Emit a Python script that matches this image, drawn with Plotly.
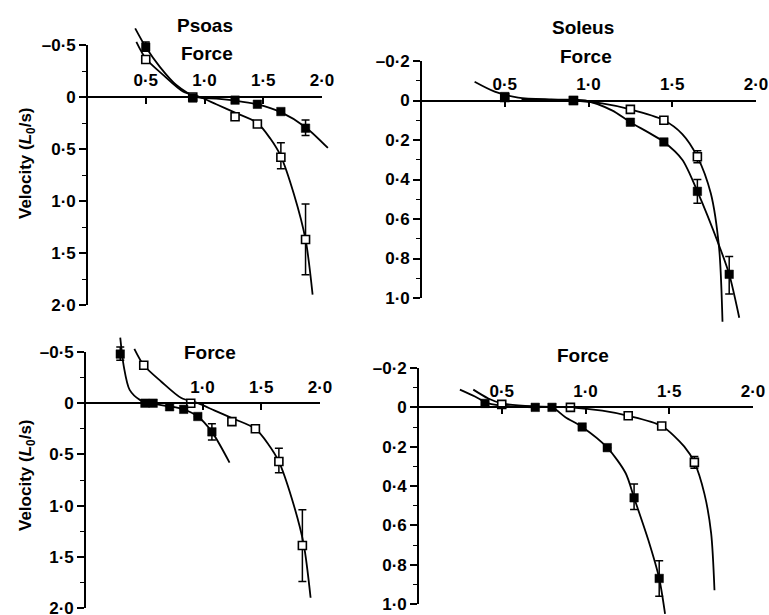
import plotly.graph_objects as go

W, H = 769, 615

# ---------------- data (Force, Velocity in L0/s) ----------------
# Panel 1: Psoas (top-left)
p1_fill_F = [0.50, 0.90, 1.26, 1.45, 1.65, 1.86]
p1_fill_V = [-0.48, 0.01, 0.03, 0.07, 0.14, 0.30]
p1_fill_ep = [0.04, 0, 0, 0, 0, 0.07]
p1_fill_em = [0.05, 0, 0, 0, 0, 0.08]
p1_open_F = [0.50, 0.90, 1.26, 1.45, 1.65, 1.86]
p1_open_V = [-0.36, 0.00, 0.19, 0.26, 0.58, 1.37]
p1_open_ep = [0, 0, 0, 0, 0.11, 0.34]
p1_open_em = [0, 0, 0, 0, 0.14, 0.34]
p1_fcurve_F = [0.41, 0.50, 0.62, 0.76, 0.93, 1.10, 1.26, 1.45, 1.65, 1.86, 2.05]
p1_fcurve_V = [-0.66, -0.48, -0.29, -0.115, 0.0, 0.015, 0.035, 0.07, 0.145, 0.29, 0.49]
p1_ocurve_F = [0.42, 0.50, 0.65, 0.82, 0.96, 1.10, 1.26, 1.45, 1.56, 1.65, 1.76, 1.86, 1.92]
p1_ocurve_V = [-0.53, -0.37, -0.21, -0.05, 0.0, 0.07, 0.15, 0.25, 0.40, 0.57, 0.93, 1.37, 1.90]

# Panel 2: Soleus (top-right)
p2_fill_F = [0.50, 0.91, 1.25, 1.45, 1.65, 1.84]
p2_fill_V = [-0.02, 0.0, 0.11, 0.21, 0.46, 0.88]
p2_fill_ep = [0, 0, 0, 0, 0.06, 0.10]
p2_fill_em = [0, 0, 0, 0, 0.06, 0.09]
p2_open_F = [0.50, 0.91, 1.25, 1.45, 1.65]
p2_open_V = [-0.015, 0.0, 0.045, 0.10, 0.285]
p2_open_ep = [0, 0, 0, 0, 0.03]
p2_open_em = [0, 0, 0, 0, 0.03]
p2_fcurve_F = [0.32, 0.44, 0.58, 0.78, 0.98, 1.14, 1.25, 1.45, 1.56, 1.65, 1.78, 1.84, 1.90]
p2_fcurve_V = [-0.095, -0.045, -0.015, -0.005, 0.0, 0.05, 0.11, 0.21, 0.30, 0.46, 0.735, 0.88, 1.10]
p2_ocurve_F = [0.60, 0.90, 1.08, 1.25, 1.45, 1.56, 1.65, 1.73, 1.78, 1.80]
p2_ocurve_V = [-0.005, 0.0, 0.015, 0.045, 0.10, 0.17, 0.285, 0.47, 0.75, 1.12]

# Panel 3: Psoas (bottom-left)
p3_fill_F = [0.30, 0.51, 0.58, 0.72, 0.84, 0.96, 1.08]
p3_fill_V = [-0.48, 0.0, 0.0, 0.035, 0.06, 0.13, 0.28]
p3_fill_ep = [0.06, 0, 0, 0, 0, 0, 0.08]
p3_fill_em = [0.07, 0, 0, 0, 0, 0, 0.08]
p3_open_F = [0.50, 0.90, 1.25, 1.45, 1.65, 1.85]
p3_open_V = [-0.37, 0.0, 0.18, 0.25, 0.57, 1.39]
p3_open_ep = [0, 0, 0, 0, 0.11, 0.35]
p3_open_em = [0, 0, 0, 0, 0.13, 0.35]
p3_fcurve_F = [0.30, 0.33, 0.38, 0.47, 0.55, 0.72, 0.84, 0.96, 1.08, 1.23]
p3_fcurve_V = [-0.64, -0.36, -0.13, -0.03, 0.0, 0.03, 0.06, 0.13, 0.28, 0.58]
p3_ocurve_F = p1_ocurve_F
p3_ocurve_V = p1_ocurve_V

# Panel 4: Soleus (bottom-right)
p4_fill_F = [0.40, 0.70, 0.80, 0.98, 1.13, 1.29, 1.44]
p4_fill_V = [-0.02, 0.0, 0.0, 0.10, 0.205, 0.46, 0.87]
p4_fill_ep = [0, 0, 0, 0, 0, 0.06, 0.09]
p4_fill_em = [0, 0, 0, 0, 0, 0.07, 0.09]
p4_open_F = [0.50, 0.91, 1.255, 1.455, 1.65]
p4_open_V = [-0.015, 0.0, 0.043, 0.095, 0.28]
p4_open_ep = [0, 0, 0, 0, 0.03]
p4_open_em = [0, 0, 0, 0, 0.03]
p4_fcurve_F = [0.25, 0.34, 0.42, 0.55, 0.70, 0.80, 0.88, 0.98, 1.13, 1.24, 1.29, 1.375, 1.44, 1.475]
p4_fcurve_V = [-0.09, -0.055, -0.02, -0.005, 0.0, 0.0, 0.05, 0.10, 0.205, 0.335, 0.46, 0.675, 0.87, 1.05]
p4_ocurve_F = [0.33, 0.42, 0.50, 0.70, 0.91, 1.10, 1.255, 1.455, 1.59, 1.65, 1.71, 1.75, 1.77]
p4_ocurve_V = [-0.09, -0.045, -0.02, -0.005, 0.0, 0.017, 0.043, 0.095, 0.20, 0.28, 0.44, 0.64, 0.93]

# tick labels
x_tickvals = [0.5, 1.0, 1.5, 2.0]
x_ticktext = ["0·5", "1·0", "1·5", "2·0"]
x_tickvals_p3 = [1.0, 1.5, 2.0]
x_ticktext_p3 = ["1·0", "1·5", "2·0"]
psoas_y_tickvals = [-0.5, 0, 0.5, 1.0, 1.5, 2.0]
psoas_y_ticktext = ["–0·5", "0", "0·5", "1·0", "1·5", "2·0"]
soleus_y_tickvals = [-0.2, 0, 0.2, 0.4, 0.6, 0.8, 1.0]
soleus_y_ticktext = ["–0·2", "0", "0·2", "0·4", "0·6", "0·8", "1·0"]

FONT = "Liberation Sans, Arial, sans-serif"
TICKFONT = dict(family=FONT, size=17, color="black", weight="bold")

# panel geometry in pixels: x0 (F=0), x2 (F=2), ytop (vtop), ybot (vbot)
panels = [
    dict(x0=87, x2=322, ytop=45, ybot=305, vtop=-0.5, vbot=2.0, minor=0.25,
         yv=psoas_y_tickvals, yt=psoas_y_ticktext, xv=x_tickvals, xt=x_ticktext,
         fill=(p1_fill_F, p1_fill_V, p1_fill_ep, p1_fill_em),
         opn=(p1_open_F, p1_open_V, p1_open_ep, p1_open_em),
         fc=(p1_fcurve_F, p1_fcurve_V), oc=(p1_ocurve_F, p1_ocurve_V)),
    dict(x0=421, x2=756, ytop=61, ybot=298, vtop=-0.2, vbot=1.0, minor=0.1,
         yv=soleus_y_tickvals, yt=soleus_y_ticktext, xv=x_tickvals, xt=x_ticktext,
         fill=(p2_fill_F, p2_fill_V, p2_fill_ep, p2_fill_em),
         opn=(p2_open_F, p2_open_V, p2_open_ep, p2_open_em),
         fc=(p2_fcurve_F, p2_fcurve_V), oc=(p2_ocurve_F, p2_ocurve_V)),
    dict(x0=85, x2=320, ytop=352, ybot=608, vtop=-0.5, vbot=2.0, minor=0.25,
         yv=psoas_y_tickvals, yt=psoas_y_ticktext, xv=x_tickvals_p3, xt=x_ticktext_p3,
         fill=(p3_fill_F, p3_fill_V, p3_fill_ep, p3_fill_em),
         opn=(p3_open_F, p3_open_V, p3_open_ep, p3_open_em),
         fc=(p3_fcurve_F, p3_fcurve_V), oc=(p3_ocurve_F, p3_ocurve_V)),
    dict(x0=418, x2=753, ytop=368, ybot=604, vtop=-0.2, vbot=1.0, minor=0.1,
         yv=soleus_y_tickvals, yt=soleus_y_ticktext, xv=x_tickvals, xt=x_ticktext,
         fill=(p4_fill_F, p4_fill_V, p4_fill_ep, p4_fill_em),
         opn=(p4_open_F, p4_open_V, p4_open_ep, p4_open_em),
         fc=(p4_fcurve_F, p4_fcurve_V), oc=(p4_ocurve_F, p4_ocurve_V)),
]


def xp(px):
    return px / W


def yp(py):
    return 1 - py / H


def axname(kind, n):
    return f"{kind}axis" if n == 1 else f"{kind}axis{n}"


def axref(kind, n):
    return kind if n == 1 else f"{kind}{n}"


fig = go.Figure()
layout = {}

for i, p in enumerate(panels):
    nd = 2 * i + 1  # data axes
    ns = 2 * i + 2  # display axes
    sx = (p["x2"] - p["x0"]) / 2.0
    sy = (p["ybot"] - p["ytop"]) / (p["vbot"] - p["vtop"])
    y_zero = p["ytop"] + (0 - p["vtop"]) * sy

    # data subplot: wider area so curves may run past the axis lines
    mL = min(45, p["x0"] - 1)
    mR = min(35, W - p["x2"])
    mT = min(40, p["ytop"])
    mB = min(30, H - p["ybot"])
    layout[axname("x", nd)] = dict(
        domain=[xp(p["x0"] - mL), xp(p["x2"] + mR)],
        range=[-mL / sx, 2.0 + mR / sx], visible=False, anchor=axref("y", nd),
        automargin=False, fixedrange=True)
    layout[axname("y", nd)] = dict(
        domain=[yp(p["ybot"] + mB), yp(p["ytop"] - mT)],
        range=[p["vbot"] + mB / sy, p["vtop"] - mT / sy], visible=False,
        anchor=axref("x", nd), automargin=False, fixedrange=True)

    # display axes
    layout[axname("x", ns)] = dict(
        domain=[xp(p["x0"]), xp(p["x2"])], range=[0, 2.0],
        anchor="free", position=yp(y_zero), side="top",
        showline=True, linecolor="black", linewidth=1.6,
        ticks="inside", ticklen=6, tickwidth=1.6, tickcolor="black",
        tickmode="array", tickvals=p["xv"], ticktext=p["xt"],
        tickfont=TICKFONT, ticklabelstandoff=3, ticklabeloverflow="allow",
        automargin=False, showgrid=False, zeroline=False, fixedrange=True)
    layout[axname("y", ns)] = dict(
        domain=[yp(p["ybot"]), yp(p["ytop"])], range=[p["vbot"], p["vtop"]],
        anchor="free", position=xp(p["x0"]), side="left",
        showline=True, linecolor="black", linewidth=1.6,
        ticks="outside", ticklen=7, tickwidth=1.6, tickcolor="black",
        tickmode="array", tickvals=p["yv"], ticktext=p["yt"],
        minor=dict(tickmode="linear", tick0=0, dtick=p["minor"],
                   ticks="outside", ticklen=4, tickwidth=1.4, tickcolor="black"),
        tickfont=TICKFONT, ticklabeloverflow="allow", automargin=False,
        showgrid=False, zeroline=False, fixedrange=True)

    fig.add_trace(go.Scatter(x=[None], y=[None], xaxis=axref("x", ns),
                             yaxis=axref("y", ns), showlegend=False,
                             hoverinfo="skip"))

    xr, yr = axref("x", nd), axref("y", nd)
    # fitted curves
    for cF, cV in (p["oc"], p["fc"]):
        fig.add_trace(go.Scatter(
            x=cF, y=cV, mode="lines", xaxis=xr, yaxis=yr,
            line=dict(color="black", width=1.8, shape="spline", smoothing=0.8),
            showlegend=False, hoverinfo="skip"))
    # open squares
    oF, oV, oep, oem = p["opn"]
    fig.add_trace(go.Scatter(
        x=oF, y=oV, mode="markers", xaxis=xr, yaxis=yr,
        marker=dict(symbol="square", size=8, color="white",
                    line=dict(color="black", width=1.6)),
        error_y=dict(type="data", symmetric=False, array=oep, arrayminus=oem,
                     color="black", thickness=1.5, width=4),
        showlegend=False))
    # filled squares
    fF, fV, fep, fem = p["fill"]
    fig.add_trace(go.Scatter(
        x=fF, y=fV, mode="markers", xaxis=xr, yaxis=yr,
        marker=dict(symbol="square", size=8.5, color="black",
                    line=dict(color="black", width=0.5)),
        error_y=dict(type="data", symmetric=False, array=fep, arrayminus=fem,
                     color="black", thickness=1.5, width=4),
        showlegend=False))

ann_font = dict(family=FONT, size=19, color="black", weight="bold")
lab_font = dict(family=FONT, size=17, color="black", weight="bold")
texts = [
    ("Psoas", 205, 25, 0), ("Force", 207, 53, 0),
    ("Soleus", 583, 27, 0), ("Force", 586, 57, 0),
    ("Force", 210, 352, 0), ("Force", 583, 355, 0),
    ("Velocity (<i>L</i><sub>0</sub>/s)", 27, 163, -90),
    ("Velocity (<i>L</i><sub>0</sub>/s)", 27, 475, -90),
]
annotations = []
for t, x, y, ang in texts:
    annotations.append(dict(text=t, x=xp(x), y=yp(y), xref="paper", yref="paper",
                            xanchor="center", yanchor="middle", showarrow=False,
                            textangle=ang,
                            font=ann_font if ang == 0 else lab_font))

fig.update_layout(
    template="none", autosize=False,
    width=W, height=H, margin=dict(l=0, r=0, t=0, b=0, pad=0),
    font=dict(family=FONT, color="black"),
    paper_bgcolor="white", plot_bgcolor="rgba(0,0,0,0)",
    showlegend=False, annotations=annotations, **layout)

fig.write_html("out.html", config={"displayModeBar": False},
               post_script="document.body.style.margin='0';"
                           "document.body.style.overflow='hidden';")
